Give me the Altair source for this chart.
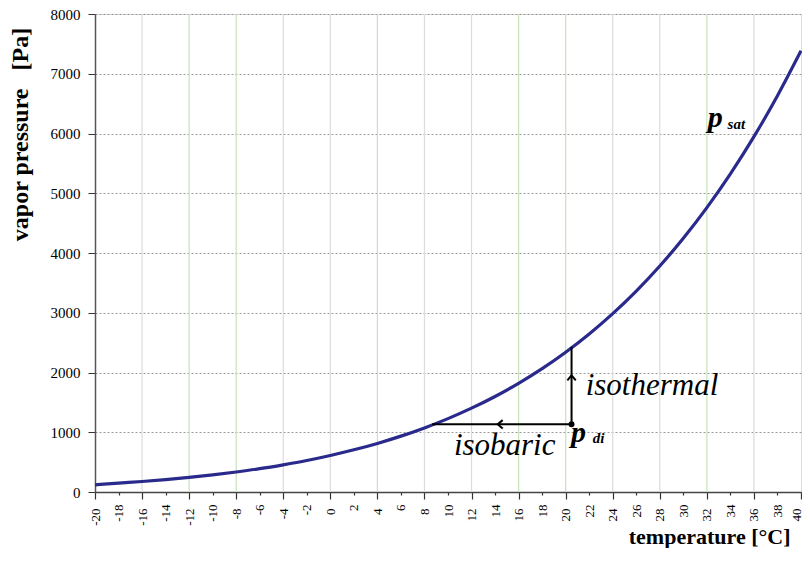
import altair as alt
import pandas as pd

# ---- data ----
temps = [-20, -18, -16, -14, -12, -10, -8, -6, -4, -2, 0, 2, 4, 6, 8, 10,
         12, 14, 16, 18, 20, 22, 24, 26, 28, 30, 32, 34, 36, 38, 40]
psat = [120, 149, 176, 208, 244, 286, 335, 390, 455, 527, 611, 706, 813, 935,
        1073, 1228, 1403, 1599, 1818, 2064, 2339, 2645, 2985, 3363, 3782, 4246,
        4759, 5324, 5947, 6632, 7384]
y_ticks = [0, 1000, 2000, 3000, 4000, 5000, 6000, 7000, 8000]

grid_x = [-16, -12, -8, -4, 0, 4, 8, 12, 16, 20, 24, 28, 32, 36]
grid_kind = ["gray", "green", "green", "gray", "gray", "green", "gray",
             "gray", "green", "green", "gray", "gray", "green", "gray"]

# state point p_di and the two processes
pdi_T = [20.5]
pdi_p = [1133]
iso_therm_T = [20.5]
iso_therm_p = [1133]
iso_therm_p2 = [2430]
iso_bar_T = [8.65]
iso_bar_T2 = [20.5]
iso_bar_p = [1133]
arrow_up_T = [20.5]
arrow_up_p = [1917]
arrow_left_T = [14.4]
arrow_left_p = [1133]

words = ["isothermal", "isobaric"]
words_T = [21.7, 10.5]
words_p = [1617, 617]
p_letters = ["p", "p"]
p_T = [20.45, 32.08]
p_p = [833, 6117]
subs = ["di", "sat"]
subs_T = [22.3, 33.76]
subs_p = [817, 6067]

# ---- tables ----
curve_df = pd.DataFrame({"T": temps, "p": psat})
grid_df = pd.DataFrame({"T": grid_x, "kind": grid_kind})
grid_df["col"] = grid_df["kind"].map({"gray": "#dcdcdc", "green": "#c6e4bc"})

FONT = "Liberation Serif"

xscale = alt.Scale(domain=[-20, 40], nice=False, zero=False)
yscale = alt.Scale(domain=[0, 8000], nice=False)

xaxis = alt.Axis(
    values=temps,
    labelExpr="'' + datum.value",
    labelAngle=270,
    labelAlign="right",
    labelBaseline="middle",
    labelFont=FONT,
    labelFontSize=13,
    labelColor="black",
    labelPadding=9,
    labelOverlap=False,
    labelOffset={"condition": {"test": "datum.value === 40", "value": -5}, "value": 0},
    grid=False,
    ticks=True,
    tickColor="#333",
    tickWidth=1.2,
    tickSize={"condition": {"test": "datum.value % 4 === 0", "value": 7}, "value": 3},
    domainColor="#444",
    domainWidth=1.5,
    title="temperature [°C]",
    titleFont=FONT,
    titleFontSize=22,
    titleFontWeight="bold",
    titleColor="black",
    titleAlign="right",
    titleBaseline="alphabetic",
    titleX=695,
    titleY=51,
)

yaxis = alt.Axis(
    values=y_ticks,
    labelExpr="'' + datum.value",
    labelFont=FONT,
    labelFontSize=15,
    labelColor="black",
    labelPadding=8,
    grid=True,
    gridColor="#999",
    gridDash=[2, 2],
    gridWidth=1,
    tickColor="#333",
    tickSize=7,
    domainColor="#555",
    domainWidth=1.5,
    title="vapor pressure\u00a0\u00a0 [Pa]",
    titleFont=FONT,
    titleFontSize=24,
    titleFontWeight="bold",
    titleColor="black",
    titleAngle=270,
    titleAlign="center",
    titleBaseline="middle",
    titleX=-75,
    titleY=120,
)

X = alt.X("T:Q", scale=xscale, axis=xaxis)
Y = alt.Y("p:Q", scale=yscale, axis=yaxis)

vgrid = alt.Chart(grid_df).mark_rule(strokeWidth=1.2).encode(
    x=X, color=alt.Color("col:N", scale=None)
)

curve = alt.Chart(curve_df).mark_line(
    color="#2a2a8c", strokeWidth=3.2, interpolate="monotone"
).encode(x=X, y=Y)

therm = alt.Chart(pd.DataFrame({"T": iso_therm_T, "p": iso_therm_p, "p2": iso_therm_p2})).mark_rule(
    color="black", strokeWidth=2
).encode(x=X, y=Y, y2="p2:Q")

bar = alt.Chart(pd.DataFrame({"T": iso_bar_T, "T2": iso_bar_T2, "p": iso_bar_p})).mark_rule(
    color="black", strokeWidth=2
).encode(x=X, x2="T2:Q", y=Y)

arr_up = alt.Chart(pd.DataFrame({"T": arrow_up_T, "p": arrow_up_p})).mark_point(
    shape="M-1,0.7L0,-0.5L1,0.7", filled=False, color="black", strokeWidth=2, size=70, opacity=1
).encode(x=X, y=Y)

arr_left = alt.Chart(pd.DataFrame({"T": arrow_left_T, "p": arrow_left_p})).mark_point(
    shape="M0.7,-1L-0.5,0L0.7,1", filled=False, color="black", strokeWidth=2, size=70, opacity=1
).encode(x=X, y=Y)

pt = alt.Chart(pd.DataFrame({"T": pdi_T, "p": pdi_p})).mark_point(
    shape="circle", filled=True, color="black", size=35, opacity=1
).encode(x=X, y=Y)

word_txt = alt.Chart(pd.DataFrame({"T": words_T, "p": words_p, "t": words})).mark_text(
    font=FONT, fontSize=31, fontStyle="italic", align="left", baseline="alphabetic", color="black"
).encode(x=X, y=Y, text="t:N")

p_txt = alt.Chart(pd.DataFrame({"T": p_T, "p": p_p, "t": p_letters})).mark_text(
    font=FONT, fontSize=30, fontStyle="italic", fontWeight="bold", align="left",
    baseline="alphabetic", color="black"
).encode(x=X, y=Y, text="t:N")

sub_txt = alt.Chart(pd.DataFrame({"T": subs_T, "p": subs_p, "t": subs})).mark_text(
    font=FONT, fontSize=15, fontStyle="italic", fontWeight="bold", align="left",
    baseline="alphabetic", color="black"
).encode(x=X, y=Y, text="t:N")

chart = alt.layer(
    vgrid, curve, therm, bar, arr_up, arr_left, pt, word_txt, p_txt, sub_txt
).properties(
    width=706,
    height=478,
    padding={"left": 87, "top": 6, "right": 1, "bottom": 56},
    autosize=alt.AutoSizeParams(type="none"),
).configure_view(
    stroke="#999", strokeWidth=1.5
).configure(background="white")

chart.save("out.html", embed_options={"renderer": "svg", "actions": False})
